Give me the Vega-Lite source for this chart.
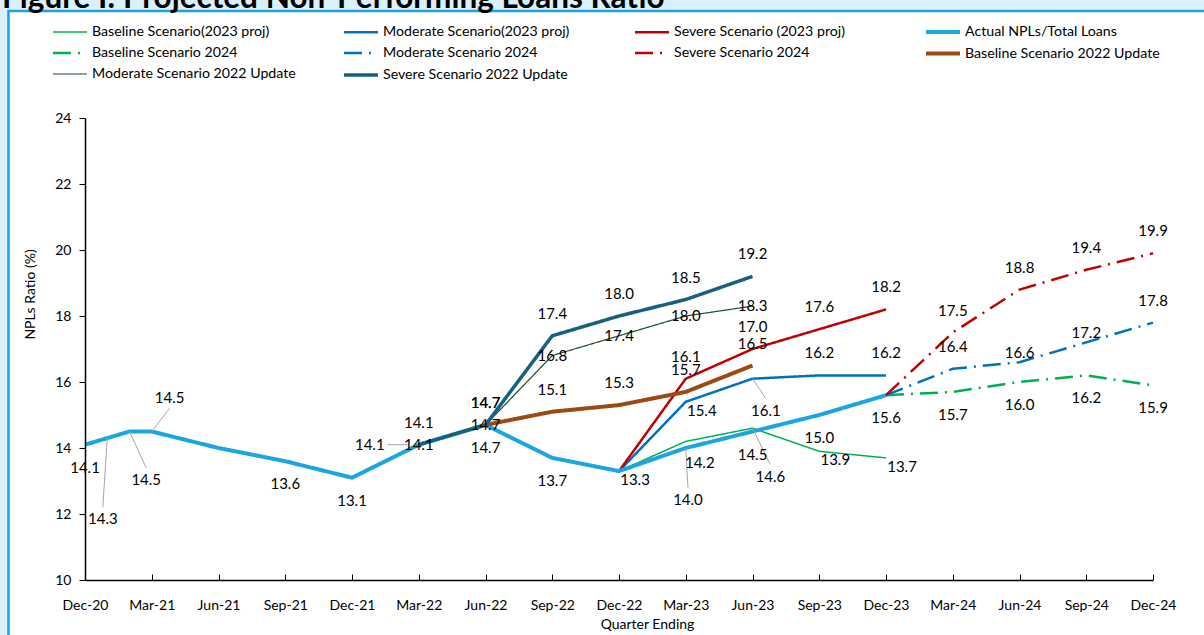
{
  "$schema": "https://vega.github.io/schema/vega-lite/v6.json",
  "width": 1068,
  "height": 462,
  "autosize": {"type": "none"},
  "padding": {"left": 85, "top": 118, "right": 51, "bottom": 55},
  "background": "#DAF0FA",
  "title": {
    "text": "Figure I: Projected Non-Performing Loans Ratio",
    "anchor": "start",
    "frame": "group",
    "font": "Lato",
    "fontSize": 31.5,
    "fontWeight": "bold",
    "color": "#000000",
    "offset": 0,
    "dx": -83,
    "dy": 5,
    "zindex": 1
  },
  "datasets": {
    "npl": [
      {"series": "Baseline Scenario(2023 proj)", "m": 24, "v": 13.3, "pos": "right"},
      {"series": "Baseline Scenario(2023 proj)", "m": 27, "v": 14.2, "pos": "belowright"},
      {"series": "Baseline Scenario(2023 proj)", "m": 30, "v": 14.6, "pos": "leader"},
      {"series": "Baseline Scenario(2023 proj)", "m": 33, "v": 13.9, "pos": "right"},
      {"series": "Baseline Scenario(2023 proj)", "m": 36, "v": 13.7, "pos": "right"},
      {"series": "Moderate Scenario(2023 proj)", "m": 24, "v": 13.3, "pos": "none"},
      {"series": "Moderate Scenario(2023 proj)", "m": 27, "v": 15.4, "pos": "right"},
      {"series": "Moderate Scenario(2023 proj)", "m": 30, "v": 16.1, "pos": "leader"},
      {"series": "Moderate Scenario(2023 proj)", "m": 33, "v": 16.2, "pos": "above"},
      {"series": "Moderate Scenario(2023 proj)", "m": 36, "v": 16.2, "pos": "above"},
      {"series": "Severe Scenario (2023 proj)", "m": 24, "v": 13.3, "pos": "none"},
      {"series": "Severe Scenario (2023 proj)", "m": 27, "v": 16.1, "pos": "above"},
      {"series": "Severe Scenario (2023 proj)", "m": 30, "v": 17.0, "pos": "above"},
      {"series": "Severe Scenario (2023 proj)", "m": 33, "v": 17.6, "pos": "above"},
      {"series": "Severe Scenario (2023 proj)", "m": 36, "v": 18.2, "pos": "above"},
      {"series": "Actual NPLs/Total Loans", "m": 0, "v": 14.1, "pos": "below"},
      {"series": "Actual NPLs/Total Loans", "m": 1, "v": 14.3, "pos": "leader"},
      {"series": "Actual NPLs/Total Loans", "m": 2, "v": 14.5, "pos": "leader"},
      {"series": "Actual NPLs/Total Loans", "m": 3, "v": 14.5, "pos": "leader"},
      {"series": "Actual NPLs/Total Loans", "m": 6, "v": 14.0, "pos": "none"},
      {"series": "Actual NPLs/Total Loans", "m": 9, "v": 13.6, "pos": "below"},
      {"series": "Actual NPLs/Total Loans", "m": 12, "v": 13.1, "pos": "below"},
      {"series": "Actual NPLs/Total Loans", "m": 15, "v": 14.1, "pos": "leader"},
      {"series": "Actual NPLs/Total Loans", "m": 18, "v": 14.7, "pos": "below"},
      {"series": "Actual NPLs/Total Loans", "m": 21, "v": 13.7, "pos": "below"},
      {"series": "Actual NPLs/Total Loans", "m": 24, "v": 13.3, "pos": "none"},
      {"series": "Actual NPLs/Total Loans", "m": 27, "v": 14.0, "pos": "leader"},
      {"series": "Actual NPLs/Total Loans", "m": 30, "v": 14.5, "pos": "below"},
      {"series": "Actual NPLs/Total Loans", "m": 33, "v": 15.0, "pos": "below"},
      {"series": "Actual NPLs/Total Loans", "m": 36, "v": 15.6, "pos": "below"},
      {"series": "Baseline Scenario 2024", "m": 36, "v": 15.6, "pos": "none"},
      {"series": "Baseline Scenario 2024", "m": 39, "v": 15.7, "pos": "below"},
      {"series": "Baseline Scenario 2024", "m": 42, "v": 16.0, "pos": "below"},
      {"series": "Baseline Scenario 2024", "m": 45, "v": 16.2, "pos": "below"},
      {"series": "Baseline Scenario 2024", "m": 48, "v": 15.9, "pos": "below"},
      {"series": "Moderate Scenario 2024", "m": 36, "v": 15.6, "pos": "none"},
      {"series": "Moderate Scenario 2024", "m": 39, "v": 16.4, "pos": "above"},
      {"series": "Moderate Scenario 2024", "m": 42, "v": 16.6, "pos": "slightabove"},
      {"series": "Moderate Scenario 2024", "m": 45, "v": 17.2, "pos": "slightabove"},
      {"series": "Moderate Scenario 2024", "m": 48, "v": 17.8, "pos": "above"},
      {"series": "Severe Scenario 2024", "m": 36, "v": 15.6, "pos": "none"},
      {"series": "Severe Scenario 2024", "m": 39, "v": 17.5, "pos": "above"},
      {"series": "Severe Scenario 2024", "m": 42, "v": 18.8, "pos": "above"},
      {"series": "Severe Scenario 2024", "m": 45, "v": 19.4, "pos": "above"},
      {"series": "Severe Scenario 2024", "m": 48, "v": 19.9, "pos": "above"},
      {"series": "Baseline Scenario 2022 Update", "m": 18, "v": 14.7, "pos": "above"},
      {"series": "Baseline Scenario 2022 Update", "m": 21, "v": 15.1, "pos": "above"},
      {"series": "Baseline Scenario 2022 Update", "m": 24, "v": 15.3, "pos": "above"},
      {"series": "Baseline Scenario 2022 Update", "m": 27, "v": 15.7, "pos": "above"},
      {"series": "Baseline Scenario 2022 Update", "m": 30, "v": 16.5, "pos": "above"},
      {"series": "Moderate Scenario 2022 Update", "m": 15, "v": 14.1, "pos": "center"},
      {"series": "Moderate Scenario 2022 Update", "m": 18, "v": 14.7, "pos": "center"},
      {"series": "Moderate Scenario 2022 Update", "m": 21, "v": 16.8, "pos": "center"},
      {"series": "Moderate Scenario 2022 Update", "m": 24, "v": 17.4, "pos": "center"},
      {"series": "Moderate Scenario 2022 Update", "m": 27, "v": 18.0, "pos": "center"},
      {"series": "Moderate Scenario 2022 Update", "m": 30, "v": 18.3, "pos": "center"},
      {"series": "Severe Scenario 2022 Update", "m": 15, "v": 14.1, "pos": "above"},
      {"series": "Severe Scenario 2022 Update", "m": 18, "v": 14.7, "pos": "above"},
      {"series": "Severe Scenario 2022 Update", "m": 21, "v": 17.4, "pos": "above"},
      {"series": "Severe Scenario 2022 Update", "m": 24, "v": 18.0, "pos": "above"},
      {"series": "Severe Scenario 2022 Update", "m": 27, "v": 18.5, "pos": "above"},
      {"series": "Severe Scenario 2022 Update", "m": 30, "v": 19.2, "pos": "above"}
    ],
    "leaders": [
      {"m": 1, "v": 14.3, "lm": 0.8, "lv": 12.2, "label": 14.3, "dir": "down"},
      {"m": 2, "v": 14.5, "lm": 2.75, "lv": 13.4, "label": 14.5, "dir": "down"},
      {"m": 3, "v": 14.5, "lm": 3.8, "lv": 15.2, "label": 14.5, "dir": "up"},
      {"m": 14.5, "v": 14.1, "lm": 13.6, "lv": 14.1, "label": 14.1, "dir": "left"},
      {"m": 27, "v": 14.0, "lm": 27.1, "lv": 12.8, "label": 14.0, "dir": "down"},
      {"m": 30, "v": 14.6, "lm": 30.8, "lv": 13.5, "label": 14.6, "dir": "down"},
      {"m": 30, "v": 16.1, "lm": 30.6, "lv": 15.5, "label": 16.1, "dir": "down"}
    ]
  },
  "layer": [
    {
      "data": {"values": [{"frame": "border"}]},
      "mark": {"type": "rect", "fill": "#FFFFFF", "stroke": "#1CA3E0", "strokeWidth": 2.5, "clip": false},
      "encoding": {
        "x": {"datum": -3.44, "type": "quantitative", "scale": {"domain": [0, 48], "nice": false, "zero": false}},
        "x2": {"datum": 60},
        "y": {"datum": 27.24, "type": "quantitative", "scale": {"domain": [10, 24], "nice": false, "zero": false}},
        "y2": {"datum": 0}
      }
    },
    {
      "data": {"name": "npl"},
      "encoding": {
        "x": {
          "field": "m",
          "type": "quantitative",
          "scale": {"domain": [0, 48], "nice": false, "zero": false},
          "axis": {
            "values": [0, 3, 6, 9, 12, 15, 18, 21, 24, 27, 30, 33, 36, 39, 42, 45, 48],
            "labelExpr": "['Dec','Mar','Jun','Sep'][(datum.value/3)%4] + '-' + (20 + floor((datum.value+11)/12))",
            "title": "Quarter Ending",
            "grid": false,
            "domainColor": "#000000",
            "domainWidth": 1.5,
            "tickColor": "#000000",
            "tickSize": -6,
            "labelPadding": 24,
            "labelFont": "Lato",
            "labelFontSize": 14,
            "labelColor": "#000000",
            "labelFlush": false,
            "labelOverlap": false,
            "titleFont": "Lato",
            "titleFontSize": 14,
            "titleFontWeight": "normal",
            "titleColor": "#000000",
            "titleX": 562,
            "titleY": 44,
            "titleBaseline": "middle",
            "zindex": 1
          }
        },
        "y": {
          "field": "v",
          "type": "quantitative",
          "scale": {"domain": [10, 24], "nice": false, "zero": false},
          "axis": {
            "values": [10, 12, 14, 16, 18, 20, 22, 24],
            "title": "NPLs Ratio (%)",
            "grid": false,
            "domainColor": "#000000",
            "domainWidth": 1.5,
            "tickColor": "#000000",
            "tickSize": 6,
            "labelPadding": 8,
            "labelFont": "Lato",
            "labelFontSize": 14,
            "labelColor": "#000000",
            "titleFont": "Lato",
            "titleFontSize": 14,
            "titleFontWeight": "normal",
            "titleColor": "#000000",
            "titleX": -48,
            "titleY": 176,
            "zindex": 1
          }
        }
      },
      "layer": [
        {
          "mark": {"type": "line", "strokeJoin": "round", "strokeCap": "butt"},
          "encoding": {
            "color": {
              "field": "series",
              "type": "nominal",
              "scale": {
                "domain": ["Baseline Scenario(2023 proj)", "Moderate Scenario(2023 proj)", "Severe Scenario (2023 proj)", "Actual NPLs/Total Loans", "Baseline Scenario 2024", "Moderate Scenario 2024", "Severe Scenario 2024", "Baseline Scenario 2022 Update", "Moderate Scenario 2022 Update", "Severe Scenario 2022 Update"],
                "range": ["#00B050", "#0070C0", "#C00000", "#1CA5DF", "#00B050", "#0070C0", "#C00000", "#9C4A14", "#1E4A26", "#17617F"]
              },
              "legend": {
                "orient": "none",
                "direction": "horizontal",
                "legendX": -24,
                "legendY": -95,
                "columns": 4,
                "title": null,
                "symbolType": "M-2.43,0H2.43",
                "symbolSize": 196,
                "labelFont": "Lato",
                "labelFontSize": 14.2,
                "labelColor": "#000000",
                "labelOffset": 13,
                "labelLimit": 400,
                "rowPadding": 4.5,
                "columnPadding": 39,
                "gridAlign": "all",
                "padding": 0,
                "zindex": 1
              }
            },
            "strokeDash": {
              "field": "series",
              "type": "nominal",
              "scale": {
                "domain": ["Baseline Scenario(2023 proj)", "Moderate Scenario(2023 proj)", "Severe Scenario (2023 proj)", "Actual NPLs/Total Loans", "Baseline Scenario 2024", "Moderate Scenario 2024", "Severe Scenario 2024", "Baseline Scenario 2022 Update", "Moderate Scenario 2022 Update", "Severe Scenario 2022 Update"],
                "range": [[1, 0], [1, 0], [1, 0], [1, 0], [18, 7, 2, 7], [18, 7, 2, 7], [18, 7, 2, 7], [1, 0], [1, 0], [1, 0]]
              }
            },
            "strokeWidth": {
              "field": "series",
              "type": "nominal",
              "scale": {
                "type": "ordinal",
                "domain": ["Baseline Scenario(2023 proj)", "Moderate Scenario(2023 proj)", "Severe Scenario (2023 proj)", "Actual NPLs/Total Loans", "Baseline Scenario 2024", "Moderate Scenario 2024", "Severe Scenario 2024", "Baseline Scenario 2022 Update", "Moderate Scenario 2022 Update", "Severe Scenario 2022 Update"],
                "range": [1.5, 2.5, 2.5, 4, 2.5, 2.5, 2.5, 4, 1.2, 3.5]
              }
            }
          }
        },
        {
          "data": {"name": "leaders"},
          "mark": {"type": "rule", "color": "#A6A6A6", "strokeWidth": 1},
          "encoding": {"x2": {"field": "lm"}, "y2": {"field": "lv"}}
        },
        {
          "data": {"name": "leaders"},
          "transform": [{"filter": "datum.dir === 'down'"}],
          "mark": {"type": "text", "font": "Lato", "fontSize": 15, "color": "#000000", "align": "center", "baseline": "top", "dy": 5},
          "encoding": {"x": {"field": "lm", "type": "quantitative"}, "y": {"field": "lv", "type": "quantitative"}, "text": {"field": "label", "type": "quantitative", "format": ".1f"}}
        },
        {
          "data": {"name": "leaders"},
          "transform": [{"filter": "datum.dir === 'up'"}],
          "mark": {"type": "text", "font": "Lato", "fontSize": 15, "color": "#000000", "align": "center", "baseline": "bottom", "dy": -2},
          "encoding": {"x": {"field": "lm", "type": "quantitative"}, "y": {"field": "lv", "type": "quantitative"}, "text": {"field": "label", "type": "quantitative", "format": ".1f"}}
        },
        {
          "data": {"name": "leaders"},
          "transform": [{"filter": "datum.dir === 'left'"}],
          "mark": {"type": "text", "font": "Lato", "fontSize": 15, "color": "#000000", "align": "right", "baseline": "middle", "dx": -3},
          "encoding": {"x": {"field": "lm", "type": "quantitative"}, "y": {"field": "lv", "type": "quantitative"}, "text": {"field": "label", "type": "quantitative", "format": ".1f"}}
        },
        {
          "transform": [{"filter": "datum.pos === 'above'"}],
          "mark": {"type": "text", "font": "Lato", "fontSize": 15, "color": "#000000", "align": "center", "baseline": "middle", "dy": -22},
          "encoding": {"text": {"field": "v", "type": "quantitative", "format": ".1f"}}
        },
        {
          "transform": [{"filter": "datum.pos === 'below'"}],
          "mark": {"type": "text", "font": "Lato", "fontSize": 15, "color": "#000000", "align": "center", "baseline": "middle", "dy": 23},
          "encoding": {"text": {"field": "v", "type": "quantitative", "format": ".1f"}}
        },
        {
          "transform": [{"filter": "datum.pos === 'center'"}],
          "mark": {"type": "text", "font": "Lato", "fontSize": 15, "color": "#000000", "align": "center", "baseline": "middle"},
          "encoding": {"text": {"field": "v", "type": "quantitative", "format": ".1f"}}
        },
        {
          "transform": [{"filter": "datum.pos === 'slightabove'"}],
          "mark": {"type": "text", "font": "Lato", "fontSize": 15, "color": "#000000", "align": "center", "baseline": "middle", "dy": -9},
          "encoding": {"text": {"field": "v", "type": "quantitative", "format": ".1f"}}
        },
        {
          "transform": [{"filter": "datum.pos === 'right'"}],
          "mark": {"type": "text", "font": "Lato", "fontSize": 15, "color": "#000000", "align": "center", "baseline": "middle", "dx": 16, "dy": 9},
          "encoding": {"text": {"field": "v", "type": "quantitative", "format": ".1f"}}
        },
        {
          "transform": [{"filter": "datum.pos === 'belowright'"}],
          "mark": {"type": "text", "font": "Lato", "fontSize": 15, "color": "#000000", "align": "center", "baseline": "middle", "dx": 14, "dy": 22},
          "encoding": {"text": {"field": "v", "type": "quantitative", "format": ".1f"}}
        }
      ]
    }
  ],
  "config": {
    "view": {"stroke": null},
    "font": "Lato"
  }
}
